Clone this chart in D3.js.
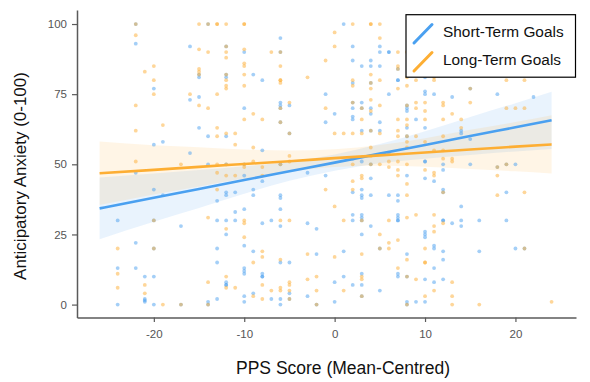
<!DOCTYPE html>
<html><head><meta charset="utf-8">
<script src="https://cdn.jsdelivr.net/npm/d3@7"></script>
<style>body{margin:0;background:#fff}svg{display:block}</style>
</head><body>
<svg id="chart" width="590" height="382"></svg>
<script>
const seriesNames = ["Short-Term Goals", "Long-Term Goals"];
const seriesColors = ["#4aa0f0", "#fdae33"];
const xTicks = [-20, -10, 0, 10, 20];
const yTicks = [0, 25, 50, 75, 100];

// scatter points [PPS score, anxiety]
const shortPts = [
[-22,100],[-22,93],[-14,100],[-16,92],[-12,92],[-10,90],[-15,82],[-15,81],[-12,82],[-12,81],[-20,77],[-16,73],[-15,74],[-10,70],[-15,63],[-14,60],[-12,60],[-20,57],[-19,58],[-16,54],[-14,50],[-12,50],[-10,50],
[1,100],[-6,95],[2,92],[5,92],[5,90],[6,90],[6,90],[-6,90],[2,87],[4,87],[4,85],[3,85],[5,85],[-9,82],[-8,80],[2,79],[4,79],[7,80],[-1,75],[6,75],[-6,72],[-6,71],[-6,70],[-5,71],[2,72],[2,70],[3,72],[3,70],[4,70],[4,68],[8,71],[8,70],[8,69],[0,68],[2,67],[2,66],[-6,65],[-1,65],[5,65],[8,63],[-5,61],[3,62],[4,62],[5,62],[8,60],[-8,55],[6,54],[2,52],
[10,76],[10,75],[11,75],[13,74],[15,77],[18,75],[22,74],[9,66],[14,62],[14,61],[10,63],[15,59],[10,51],[7,84],[7,80],[10,81],[10,82],[16,82],
[-22,47],[-20,41],[-19,39],[-12,39],[-12,40],[-11,40],[-13,37],[-10,46],
[-24,30],[-20,30],[-17,28],[-13,30],[-12,30],[-12,25],[-11,33],[-11,30],[-10,34],[-10,21],[-22,22],[-20,20],[-13,20],[-24,13],[-22,13],[-21,10],[-20,10],[-13,15],[-10,13],[-10,12],[-10,11],[-12,8],[-12,7],[-12,7],[-10,3],[-21,2],[-21,1],[-21,1.5],[-14,1],[-13,2],[-10,1],[-24,0],[-20,0],[-17,0],[-14,0],
[-6,50],[-8,44],[-3,47],[-1,46],[3,51],[4,50],[2,40],[3,41],[3,39],[3,38],[4,45],[4,39],[6,39],[7,39],[7,37],[8,46],[-9,41],[-9,39],[-6,39],[-6,38],[-6,34],[-8,29],[-7,30],[-6,28],[-3,29],[-2,27],[2,32],[2,30],[3,32],[3,31],[3,30],[4,28],[7,32],[7,31],[7,30],[7,30],[3,25],[5,20],[-9,19],[-2,18],[1,19],[8,18],[-6,15],[-5,15],[7,11],[7,10],[8,10],[-8,11],[-8,10],[-8,10],[1,10],[3,11],[0,8],[2,7],[-5,4],[-5,2],[3,7],[5,5],[-9,4],[-7,2],[-6,2],[-3,3],[3,3],[8,1],[8,0],[-6,0],[-2,0],[0,1],
[10,51],[12,50],[15,50],[18,49],[19,50],[20,50],[12,48],[10,45],[11,44],[12,41],[12,40],[19,40],[14,35],[12,30],[12,30],[13,29],[14,30],[14,28],[16,30],[19,30],[10,26],[10,25],[10,24],[11,21],[11,20],[12,19],[16,19],[20,20],[21,20],[12,16],[11,13],[10,9],[11,8],[12,9],[9,1],[10,1]
];
const longPts = [
[-22,100],[-22,96],[-15,100],[-14,100],[-13,100],[-13,100],[-12,100],[-10,100],[-10,100],[-15,91],[-14,90],[-12,92],[-12,90],[-12,88],[-10,91],[-10,86],[-10,85],[-20,85],[-21,83],[-15,84],[-15,83],[-15,82],[-12,82],[-12,80],[-12,78],[-12,77],[-10,82],[-10,78],[-20,80],[-20,75],[-16,75],[-13,75],[-22,71],[-15,71],[-14,70],[-10,66],[-19,64],[-22,62],[-13,63],[-13,60],[-12,61],[-11,61],[-11,57],[-22,51],[-17,50],[-13,50],[-12,50],
[2,100],[4,100],[4,100],[5,100],[0,97],[5,95],[0,92],[7,90],[-7,90],[-6,90],[-1,87],[-6,85],[7,85],[7,84],[-6,80],[-6,80],[-6,79],[-3,81],[2,80],[2,78],[4,82],[4,79],[4,77],[5,80],[7,77],[8,78],[4,73],[-6,70],[-5,72],[-1,70],[2,72],[3,70],[4,69],[5,71],[8,71],[-9,68],[-8,66],[3,66],[7,66],[8,66],[-6,65],[8,64],[-5,61],[0,61],[1,61],[2,61],[4,62],[7,62],[3,61],[5,61],[8,60],[7,60],[-9,56],[-5,53],[4,56],[8,58],[8,56],[-9,51],[-5,51],[4,53],
[15,77],[9,72],[10,72],[12,72],[12,71],[15,72],[9,70],[10,69],[19,70],[20,70],[21,70],[10,66],[12,66],[13,68],[14,66],[14,63],[9,60],[12,60],[10,58],[11,55],[12,55],[12,52],[13,52],[9,80],[11,80],[19,80],[21,80],[8,90],[8,81],[11,81],
[-13,47],[-12,46],[-11,46],[-13,41],[-10,49],[-10,50],[-20,30],[-14,31],[-12,27],[-10,30],[-10,29],[-10,24],[-24,20],[-20,20],[-24,11],[-12,10],[-24,6],[-21,7],[-21,4],[-14,8],[-12,6],[-11,6],[-19,0],[-17,0],[-14,0],
[-6,50],[-8,49],[-8,46],[-1,41],[2,50],[4,50],[5,50],[6,51],[6,49],[7,51],[7,48],[7,46],[8,50],[2,44],[2,41],[3,46],[3,45],[8,43],[8,39],[0,35],[-6,30],[-5,30],[1,30],[3,30],[6,30],[8,31],[5,25],[6,22],[6,20],[5,20],[7,23],[-8,19],[-8,17],[-3,18],[0,17],[3,18],[8,16],[-9,15],[-6,16],[7,13],[8,10],[-6,6],[-5,8],[-5,7],[-3,9],[-2,10],[3,10],[3,9],[-8,7],[-7,5],[-6,5],[-5,5],[-2,5],[1,5],[-9,3],[-8,2],[-5,2],[3,3],[8,0],[-2,0],
[13,51],[18,49],[19,50],[10,48],[11,47],[11,46],[18,46],[12,40],[21,40],[18,39],[9,32],[11,32],[12,29],[11,28],[11,26],[10,20],[21,20],[10,15],[10,15],[9,9],[13,8],[11,5],[10,3],[13,3],[13,0],[16,0],[24,1]
];

// fitted lines and confidence bands, read at these x positions
const fitX       = [-26, -20, -15, -10, -5, 0, 5, 10, 15, 20, 24];
const shortFit   = [34.3, 38.1, 41.2, 44.4, 47.5, 50.6, 53.8, 56.9, 60.1, 63.2, 65.7];
const shortLower = [23.3, 29.5, 34.4, 39.5, 44.1, 47.7, 50.4, 52.0, 53.3, 54.6, 55.5];
const shortUpper = [45.3, 46.7, 48.0, 49.3, 50.9, 53.5, 57.2, 61.8, 66.9, 71.8, 75.9];
const longFit    = [46.8, 48.0, 49.1, 50.1, 51.1, 52.2, 53.2, 54.2, 55.3, 56.3, 57.1];
const longLower  = [35.5, 39.2, 42.1, 44.9, 47.3, 49.0, 49.5, 49.1, 48.3, 47.5, 46.7];
const longUpper  = [58.1, 56.8, 56.1, 55.3, 54.9, 55.4, 56.9, 59.3, 62.3, 65.1, 67.5];

const svg = d3.select("#chart");
const x = d3.scaleLinear().domain([-28.5, 26.7]).range([77, 576]);
const y = d3.scaleLinear().domain([-4.6, 105]).range([317.5, 10]);
const font = "'Liberation Sans', Arial, sans-serif";

// bands
const bands = [[shortLower, shortUpper, 0], [longLower, longUpper, 1]];
const area = d3.area().curve(d3.curveMonotoneX);
bands.forEach(([lo, hi, i]) => {
  const pts = fitX.map((v, k) => ({x: v, lo: lo[k], hi: hi[k]}));
  svg.append("path")
    .attr("d", area.x(d => x(d.x)).y0(d => y(d.lo)).y1(d => y(d.hi))(pts))
    .attr("fill", seriesColors[i]).attr("fill-opacity", 0.12);
});

// points
[[shortPts, 0], [longPts, 1]].forEach(([pts, i]) => {
  svg.append("g").selectAll("circle").data(pts).join("circle")
    .attr("cx", d => x(d[0])).attr("cy", d => y(d[1])).attr("r", 1.9)
    .attr("fill", seriesColors[i]).attr("fill-opacity", 0.5);
});

// fit lines
const line = d3.line().curve(d3.curveMonotoneX);
[[shortFit, 0], [longFit, 1]].forEach(([f, i]) => {
  svg.append("path")
    .attr("d", line.x((d, k) => x(fitX[k])).y(d => y(d))(f))
    .attr("fill", "none").attr("stroke", seriesColors[i]).attr("stroke-width", 2.6);
});

// axes
const fmt = d => String(d);
const xAxis = svg.append("g").attr("transform", "translate(0,317.5)")
  .call(d3.axisBottom(x).tickValues(xTicks).tickFormat(fmt).tickSize(4.5).tickSizeOuter(0).tickPadding(8));
const yAxis = svg.append("g").attr("transform", "translate(77,0)")
  .call(d3.axisLeft(y).tickValues(yTicks).tickFormat(fmt).tickSize(5).tickSizeOuter(0).tickPadding(5));
[xAxis, yAxis].forEach(a => {
  a.select(".domain").attr("stroke", "#5a5a5a").attr("stroke-width", 1.5);
  a.selectAll(".tick line").attr("stroke", "#5a5a5a").attr("stroke-width", 1.2);
  a.selectAll(".tick text").attr("fill", "#555").style("font-family", font).style("font-size", "11.5px");
});

// titles
svg.append("text").attr("x", 343).attr("y", 374).attr("text-anchor", "middle")
  .style("font-family", font).style("font-size", "17.5px").attr("fill", "#111")
  .text("PPS Score (Mean-Centred)");
svg.append("text").attr("transform", "translate(26,176) rotate(-90)").attr("text-anchor", "middle")
  .style("font-family", font).style("font-size", "17px").attr("fill", "#111")
  .text("Anticipatory Anxiety (0-100)");

// legend
const lg = svg.append("g");
lg.append("rect").attr("x", 406).attr("y", 14.7).attr("width", 169.5).attr("height", 62.5)
  .attr("fill", "#fff").attr("stroke", "#000").attr("stroke-width", 1.2);
seriesNames.forEach((n, i) => {
  const yy = 37 + i * 28;
  lg.append("line").attr("x1", 414).attr("y1", yy + 6).attr("x2", 432).attr("y2", yy - 12.5)
    .attr("stroke", seriesColors[i]).attr("stroke-width", 3).attr("stroke-linecap", "round");
  lg.append("text").attr("x", 443).attr("y", yy).style("font-family", font).style("font-size", "15.4px")
    .attr("fill", "#111").text(n);
});
</script>
</body></html>
